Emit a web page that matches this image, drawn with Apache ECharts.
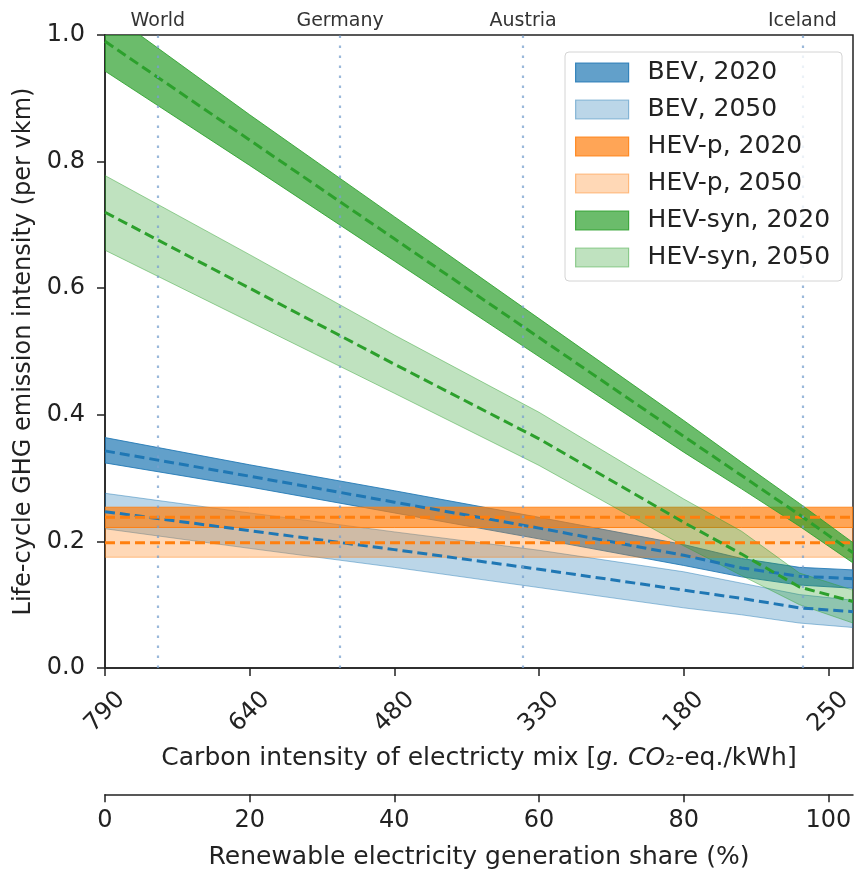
<!DOCTYPE html>
<html>
<head>
<meta charset="utf-8">
<script src="https://cdn.jsdelivr.net/npm/echarts@6/dist/echarts.min.js"></script>
<style>
  html, body { margin: 0; padding: 0; background: #ffffff; }
  #chart { width: 861px; height: 870px; }
</style>
</head>
<body>
<div id="chart"></div>
<script>
// Renewable electricity share (%) at which every band is sampled
const shareX = [0, 20, 40, 60, 80, 88, 96, 103.4];

// Life-cycle GHG intensity per vkm: central estimate and range
const bev2020Mid  = [0.343, 0.303, 0.262, 0.221, 0.178, 0.158, 0.145, 0.141];
const bev2020Low  = [0.324, 0.286, 0.245, 0.204, 0.162, 0.144, 0.131, 0.126];
const bev2020High = [0.364, 0.321, 0.280, 0.238, 0.195, 0.173, 0.159, 0.155];

const bev2050Mid  = [0.247, 0.217, 0.187, 0.156, 0.123, 0.110, 0.095, 0.089];
const bev2050Low  = [0.220, 0.189, 0.159, 0.127, 0.095, 0.084, 0.071, 0.064];
const bev2050High = [0.276, 0.245, 0.215, 0.186, 0.152, 0.134, 0.116, 0.107];

const hevp2020Mid  = [0.238, 0.238, 0.238, 0.238, 0.238, 0.238, 0.238, 0.238];
const hevp2020Low  = [0.222, 0.222, 0.222, 0.222, 0.222, 0.222, 0.222, 0.222];
const hevp2020High = [0.254, 0.254, 0.254, 0.254, 0.254, 0.254, 0.254, 0.254];

const hevp2050Mid  = [0.198, 0.198, 0.198, 0.198, 0.198, 0.198, 0.198, 0.198];
const hevp2050Low  = [0.175, 0.175, 0.175, 0.175, 0.175, 0.175, 0.175, 0.175];
const hevp2050High = [0.222, 0.222, 0.222, 0.222, 0.222, 0.222, 0.222, 0.222];

const hevsyn2020Mid  = [0.990, 0.834, 0.678, 0.522, 0.366, 0.304, 0.242, 0.182];
const hevsyn2020Low  = [0.943, 0.794, 0.643, 0.492, 0.341, 0.283, 0.224, 0.166];
const hevsyn2020High = [1.040, 0.874, 0.713, 0.552, 0.391, 0.325, 0.260, 0.198];

const hevsyn2050Mid  = [0.720, 0.600, 0.480, 0.362, 0.230, 0.180, 0.128, 0.105];
const hevsyn2050Low  = [0.660, 0.547, 0.434, 0.320, 0.193, 0.146, 0.100, 0.071];
const hevsyn2050High = [0.778, 0.653, 0.526, 0.404, 0.267, 0.216, 0.150, 0.123];

// Axis tick labels
const shareTicks = [0, 20, 40, 60, 80, 100];
const carbonLabels = ['790', '640', '480', '330', '180', '250'];
const yTicks = [0, 0.2, 0.4, 0.6, 0.8, 1.0];

// Reference electricity mixes (renewable share, %)
const regionNames = ['World', 'Germany', 'Austria', 'Iceland'];
const regionShare = [7.3, 32.5, 57.8, 96.4];

const FONT = 'DejaVu Sans';
const INK = '#222222';

const colors = {
  blue:   [31, 119, 180],
  orange: [255, 127, 14],
  green:  [44, 160, 44]
};
const rgba = (c, a) => `rgba(${c[0]},${c[1]},${c[2]},${a})`;
const rgb = c => `rgb(${c[0]},${c[1]},${c[2]})`;

const bands = [
  { name: 'BEV, 2020',     c: colors.blue,   a: 0.7, mid: bev2020Mid,    low: bev2020Low,    high: bev2020High },
  { name: 'BEV, 2050',     c: colors.blue,   a: 0.3, mid: bev2050Mid,    low: bev2050Low,    high: bev2050High },
  { name: 'HEV-p, 2020',   c: colors.orange, a: 0.7, mid: hevp2020Mid,   low: hevp2020Low,   high: hevp2020High },
  { name: 'HEV-p, 2050',   c: colors.orange, a: 0.3, mid: hevp2050Mid,   low: hevp2050Low,   high: hevp2050High },
  { name: 'HEV-syn, 2020', c: colors.green,  a: 0.7, mid: hevsyn2020Mid, low: hevsyn2020Low, high: hevsyn2020High },
  { name: 'HEV-syn, 2050', c: colors.green,  a: 0.3, mid: hevsyn2050Mid, low: hevsyn2050Low, high: hevsyn2050High }
];

// Filled range drawn as one polygon through the cartesian scales
function bandSeries(b) {
  const fill = rgba(b.c, b.a);
  const edge = rgba(b.c, Math.min(1, b.a + 0.15));
  return {
    type: 'custom',
    name: b.name,
    coordinateSystem: 'cartesian2d',
    xAxisIndex: 0,
    yAxisIndex: 0,
    clip: true,
    silent: true,
    itemStyle: { color: fill, borderColor: edge, borderWidth: 1 },
    encode: { x: 0, y: [1, 2] },
    data: shareX.map((x, i) => [x, b.low[i], b.high[i]]),
    renderItem(params, api) {
      if (params.dataIndexInside !== 0) return null;
      const n = params.dataInsideLength;
      const upper = [];
      const lower = [];
      for (let i = 0; i < n; i++) {
        upper.push(api.coord([api.value(0, i), api.value(2, i)]));
        lower.push(api.coord([api.value(0, i), api.value(1, i)]));
      }
      return {
        type: 'polygon',
        shape: { points: upper.concat(lower.reverse()) },
        style: { fill: fill, stroke: edge, lineWidth: 1 }
      };
    }
  };
}

function midSeries(b) {
  return {
    type: 'line',
    name: b.name + ' (mid)',
    xAxisIndex: 0,
    yAxisIndex: 0,
    symbol: 'none',
    silent: true,
    clip: true,
    lineStyle: { color: rgb(b.c), width: 3, type: [10, 5] },
    data: shareX.map((x, i) => [x, b.mid[i]])
  };
}

const series = [];
bands.forEach(b => { series.push(bandSeries(b)); series.push(midSeries(b)); });

// Dotted markers for reference electricity mixes, named above the frame
series.push({
  type: 'line',
  name: 'regions',
  xAxisIndex: 0,
  yAxisIndex: 0,
  data: [],
  silent: true,
  markLine: {
    symbol: 'none',
    silent: true,
    animation: false,
    lineStyle: { color: 'rgba(120,160,205,0.75)', width: 2.2, type: [2.5, 7.5] },
    label: {
      show: true, position: 'end', distance: 4,
      formatter: '{b}', fontFamily: FONT, fontSize: 19, color: '#333'
    },
    emphasis: { disabled: true },
    data: regionNames.map((n, i) => ({ name: n, xAxis: regionShare[i] }))
  }
});

const axisLineStyle = { color: INK, width: 1.5 };

const option = {
  animation: false,
  backgroundColor: '#ffffff',
  textStyle: { fontFamily: FONT },
  grid: [
    { left: 105, right: 8, top: 35, bottom: 202, show: true, borderColor: INK, borderWidth: 1.5, backgroundColor: 'transparent' },
    { left: 105, right: 8, top: 794, height: 1 }
  ],
  legend: {
    orient: 'vertical',
    left: 565,
    top: 52,
    itemWidth: 53,
    itemHeight: 19,
    itemGap: 12,
    padding: [8, 12, 11, 10],
    backgroundColor: 'rgba(255,255,255,0.8)',
    borderColor: '#d4d4d4',
    borderWidth: 1,
    borderRadius: 4,
    selectedMode: false,
    icon: 'rect',
    z: 10,
    textStyle: { fontFamily: FONT, fontSize: 25, color: INK, padding: [0, 0, 0, 14] },
    data: bands.map(b => ({
      name: b.name,
      icon: 'rect',
      itemStyle: { color: rgba(b.c, b.a), borderColor: rgba(b.c, Math.min(1, b.a + 0.15)), borderWidth: 1.2 }
    }))
  },
  xAxis: [
    {
      gridIndex: 0,
      type: 'value',
      min: 0,
      max: 103.4,
      interval: 20,
      splitLine: { show: false },
      axisLine: { show: true, onZero: false, lineStyle: axisLineStyle },
      axisTick: { show: true, length: 8, lineStyle: axisLineStyle, customValues: shareTicks },
      axisLabel: {
        customValues: shareTicks,
        rotate: 45,
        align: 'center',
        verticalAlign: 'middle',
        margin: 44,
        fontFamily: FONT,
        fontSize: 24,
        color: INK,
        formatter: v => carbonLabels[Math.round(v / 20)]
      },
      name: 'Carbon intensity of electricty mix [{i|g. CO}₂-eq./kWh]',
      nameLocation: 'middle',
      nameGap: 78,
      nameTextStyle: {
        fontFamily: FONT, fontSize: 25, color: INK, verticalAlign: 'top',
        rich: { i: { fontFamily: FONT, fontSize: 25, fontStyle: 'italic', color: INK } }
      }
    },
    {
      gridIndex: 1,
      type: 'value',
      min: 0,
      max: 103.4,
      interval: 20,
      splitLine: { show: false },
      axisLine: { show: true, onZero: false, lineStyle: axisLineStyle },
      axisTick: { show: true, length: 8, lineStyle: axisLineStyle, customValues: shareTicks },
      axisLabel: {
        customValues: shareTicks,
        margin: 15,
        fontFamily: FONT,
        fontSize: 24,
        color: INK,
        formatter: v => String(Math.round(v))
      },
      name: 'Renewable electricity generation share (%)',
      nameLocation: 'middle',
      nameGap: 51,
      nameTextStyle: { fontFamily: FONT, fontSize: 25, color: INK, verticalAlign: 'top' }
    }
  ],
  yAxis: [
    {
      gridIndex: 0,
      type: 'value',
      min: 0,
      max: 1,
      interval: 0.2,
      splitLine: { show: false },
      axisLine: { show: true, lineStyle: axisLineStyle },
      axisTick: { show: true, length: 8, lineStyle: axisLineStyle, customValues: yTicks },
      axisLabel: {
        customValues: yTicks,
        margin: 20,
        fontFamily: FONT,
        fontSize: 24,
        color: INK,
        formatter: v => v.toFixed(1)
      },
      name: 'Life-cycle GHG emission intensity (per vkm)',
      nameLocation: 'middle',
      nameGap: 68,
      nameTextStyle: { fontFamily: FONT, fontSize: 24, color: INK }
    },
    { gridIndex: 1, type: 'value', show: false, min: 0, max: 1 }
  ],
  series: series
};

const chart = echarts.init(document.getElementById('chart'), null, { renderer: 'canvas' });
chart.setOption(option);
</script>
</body>
</html>
